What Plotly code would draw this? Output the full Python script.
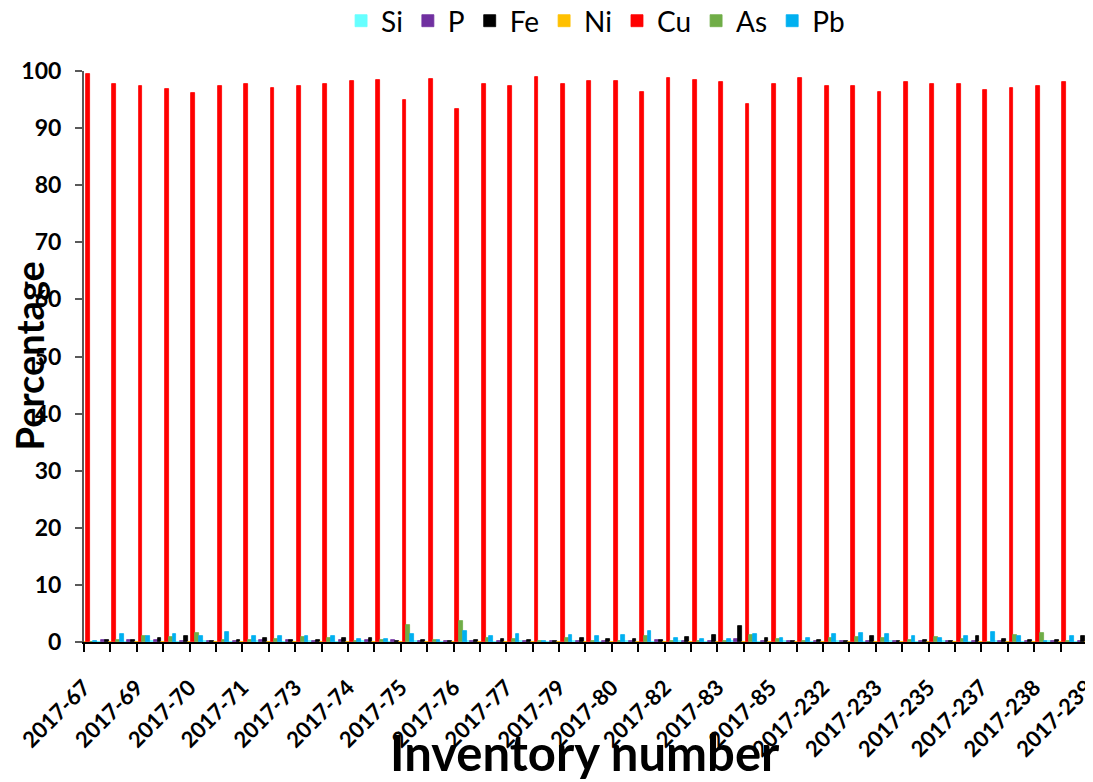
import plotly.graph_objects as go

categories = [
    "2017-67", "2017-68", "2017-69", "2017-69b", "2017-70", "2017-70b", "2017-71", "2017-72",
    "2017-73", "2017-73b", "2017-74", "2017-74b", "2017-75", "2017-75b", "2017-76", "2017-76b",
    "2017-77", "2017-78", "2017-79", "2017-79b", "2017-80", "2017-81", "2017-82", "2017-82b",
    "2017-83", "2017-84", "2017-85", "2017-86", "2017-232", "2017-232b", "2017-233", "2017-234",
    "2017-235", "2017-236", "2017-237", "2017-237b", "2017-238", "2017-238b", "2017-239",
]
# labels shown on the axis (every other category)
shown_labels = [
    "2017-67", "2017-69", "2017-70", "2017-71", "2017-73", "2017-74", "2017-75", "2017-76",
    "2017-77", "2017-79", "2017-80", "2017-82", "2017-83", "2017-85", "2017-232", "2017-233",
    "2017-235", "2017-237", "2017-238", "2017-239",
]

si = [0.1, 0.08, 0.05, 0.1, 0.08, 0.1, 0.05, 0.1, 0.08, 0.1, 0.05, 0.1, 0.08, 0.1, 0.05, 0.1,
      0.08, 0.1, 0.05, 0.1, 0.08, 0.1, 0.05, 0.1, 0.08, 0.1, 0.05, 0.1, 0.08, 0.1, 0.05, 0.1,
      0.08, 0.1, 0.05, 0.1, 0.08, 0.1, 0.05]
p = [0.2, 0.3, 0.3, 0.35, 0.25, 0.2, 0.2, 0.3, 0.3, 0.25, 0.3, 0.3, 0.3, 0.2, 0.25, 0.25,
     0.2, 0.25, 0.25, 0.2, 0.25, 0.25, 0.3, 0.25, 0.2, 0.45, 0.2, 0.2, 0.2, 0.2, 0.25, 0.25,
     0.25, 0.2, 0.25, 0.2, 0.25, 0.2, 0.25]
fe = [0.3, 0.3, 0.35, 0.7, 1.05, 0.2, 0.4, 0.65, 0.35, 0.3, 0.7, 0.65, 0.2, 0.3, 0.2, 0.3,
      0.5, 0.3, 0.2, 0.7, 0.5, 0.6, 0.3, 0.95, 1.15, 2.85, 0.65, 0.2, 0.4, 0.1, 1.05, 0.25,
      0.3, 0.2, 1.0, 0.5, 0.4, 0.35, 1.0]
ni = [0.03, 0.02, 0.03, 0.02, 0.03, 0.02, 0.03, 0.02, 0.03, 0.02, 0.03, 0.02, 0.03, 0.02,
      0.03, 0.02, 0.03, 0.02, 0.03, 0.02, 0.03, 0.02, 0.03, 0.02, 0.03, 0.02, 0.03, 0.02,
      0.03, 0.02, 0.03, 0.02, 0.03, 0.02, 0.03, 0.02, 0.03, 0.02, 0.03]
cu = [99.4, 97.8, 97.3, 96.9, 96.1, 97.4, 97.8, 97.1, 97.4, 97.7, 98.2, 98.5, 94.9, 98.6,
      93.4, 97.7, 97.4, 99.0, 97.7, 98.3, 98.2, 96.4, 98.8, 98.4, 98.0, 94.3, 97.8, 98.7,
      97.4, 97.3, 96.4, 98.1, 97.8, 97.8, 96.7, 97.0, 97.4, 98.0, 96.9]
as_ = [0.05, 0.3, 1.0, 0.8, 1.5, 0.35, 0.3, 0.6, 0.9, 0.7, 0.2, 0.3, 2.9, 0.35, 3.7, 0.7,
       0.45, 0.15, 0.75, 0.1, 0.1, 1.05, 0.1, 0.1, 0.1, 1.15, 0.5, 0.1, 0.65, 0.8, 0.7, 0.4,
       0.9, 0.5, 0.05, 1.2, 1.6, 0.25, 0.5]
pb = [0.1, 1.4, 1.05, 1.4, 1.05, 1.7, 1.05, 1.0, 1.05, 1.0, 0.5, 0.5, 1.4, 0.3, 2.0, 1.1,
      1.35, 0.25, 1.2, 1.05, 1.2, 1.9, 0.65, 0.45, 0.5, 1.35, 0.7, 0.65, 1.4, 1.5, 1.35, 1.0,
      0.65, 1.0, 1.75, 1.0, 0.25, 1.05, 0.8]

series = [
    ("Si", si, "#66FFFF"),
    ("P", p, "#7030A0"),
    ("Fe", fe, "#000000"),
    ("Ni", ni, "#FFC000"),
    ("Cu", cu, "#FF0000"),
    ("As", as_, "#70AD47"),
    ("Pb", pb, "#00B0F0"),
]

FONT = "Lato"
# the page body has an 8px margin; figure sized so its right/bottom edges meet the window
W, H = 1085, 774
L, T, B = 76, 63, 140
PLOT_H = H - T - B
PLOT_W = W - L

fig = go.Figure()
for name, vals, color in series:
    fig.add_trace(go.Bar(name=name, x=categories, y=vals, marker_color=color,
                         marker_line=dict(width=0.8, color=color)))

ticktext = [c if c in shown_labels else "" for c in categories]

fig.update_layout(
    width=W, height=H,
    margin=dict(l=L, r=0, t=T, b=B, autoexpand=False),
    plot_bgcolor="white", paper_bgcolor="white",
    barmode="group", bargap=0, bargroupgap=0,
    font=dict(family=FONT, color="black"),
    legend=dict(orientation="h", x=0.507, xanchor="center", yref="container",
                y=1 - 13 / H, yanchor="middle",
                font=dict(family=FONT, size=28, color="black"),
                itemwidth=30, traceorder="normal"),
    xaxis=dict(
        type="category", range=[0, 38.23],
        tickmode="array", tickvals=categories, ticktext=ticktext,
        tickangle=-45, tickfont=dict(family=FONT, size=22, weight="bold", color="black"),
        ticklabelstandoff=14,
        showline=True, linecolor="black", linewidth=2,
        ticks="outside", ticklen=8, tickwidth=2, tickcolor="black",
        showgrid=False, zeroline=False, automargin=False,
    ),
    yaxis=dict(
        range=[0, 100], dtick=10,
        tickfont=dict(family=FONT, size=23, weight="bold", color="black"),
        showline=True, linecolor="#595959", linewidth=2,
        ticks="outside", ticklen=7, tickwidth=2, tickcolor="#595959",
        ticklabelstandoff=9,
        showgrid=False, zeroline=False, automargin=False,
    ),
    annotations=[
        dict(text="<b>Percentage</b>", xref="paper", yref="paper",
             x=-56 / PLOT_W, y=0.5, xanchor="center", yanchor="middle",
             textangle=-90, showarrow=False,
             font=dict(family=FONT, size=38, color="black")),
        dict(text="<b>Inventory number</b>", xref="paper", yref="paper",
             x=0.497, y=-(752 - 642) / PLOT_H, xanchor="center", yanchor="middle",
             showarrow=False,
             font=dict(family=FONT, size=49, color="black")),
    ],
)

fig.write_html("out.html")
